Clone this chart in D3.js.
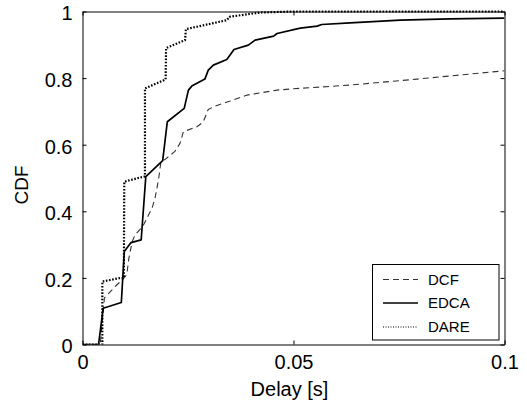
<!DOCTYPE html>
<html>
<head>
<meta charset="utf-8">
<script src="https://cdn.jsdelivr.net/npm/d3@7"></script>
<style>
  html, body { margin: 0; padding: 0; background: #fff; }
  svg { display: block; font-family: "Liberation Sans", Arial, Helvetica, sans-serif; }
</style>
</head>
<body>
<svg id="chart" width="527" height="409"></svg>
<script>
// Delay samples (s) and cumulative fractions for each access scheme
const dcfDelay = [0, 0.0042, 0.0052, 0.0078, 0.0095, 0.0105, 0.011, 0.0118, 0.0125, 0.0143, 0.0155, 0.0165, 0.0172, 0.018, 0.0186, 0.0196, 0.0219, 0.0231, 0.0239, 0.0271, 0.0286, 0.0298, 0.0314, 0.035, 0.039, 0.0461, 0.05, 0.0634, 0.0793, 0.1];
const dcfCdf   = [0, 0, 0.14, 0.175, 0.195, 0.21, 0.26, 0.31, 0.33, 0.355, 0.385, 0.41, 0.44, 0.494, 0.55, 0.556, 0.58, 0.604, 0.639, 0.654, 0.668, 0.706, 0.716, 0.731, 0.749, 0.764, 0.768, 0.779, 0.797, 0.822];

const edcaDelay = [0, 0.0038, 0.0049, 0.0092, 0.0099, 0.0115, 0.0139, 0.015, 0.019, 0.0201, 0.0241, 0.0251, 0.0259, 0.029, 0.0298, 0.031, 0.0342, 0.0359, 0.0393, 0.0409, 0.0453, 0.0461, 0.0516, 0.0556, 0.0567, 0.0634, 0.0753, 0.0871, 0.1];
const edcaCdf   = [0, 0, 0.109, 0.126, 0.279, 0.306, 0.314, 0.504, 0.552, 0.669, 0.709, 0.764, 0.776, 0.797, 0.824, 0.839, 0.856, 0.886, 0.899, 0.914, 0.926, 0.934, 0.95, 0.956, 0.961, 0.966, 0.974, 0.978, 0.98];

const dareDelay = [0, 0.0047, 0.0047, 0.0086, 0.0098, 0.0099, 0.0148, 0.0148, 0.0197, 0.0198, 0.0243, 0.0245, 0.0342, 0.0348, 0.0421, 0.05, 0.1];
const dareCdf   = [0, 0, 0.189, 0.199, 0.2, 0.489, 0.505, 0.769, 0.796, 0.89, 0.914, 0.947, 0.974, 0.984, 0.997, 1, 1];

const seriesNames = ["DCF", "EDCA", "DARE"];
const xTicks = [0, 0.05, 0.1];
const xTickLabels = ["0", "0.05", "0.1"];
const yTicks = [0, 0.2, 0.4, 0.6, 0.8, 1];
const yTickLabels = ["0", "0.2", "0.4", "0.6", "0.8", "1"];

const svg = d3.select("#chart");
const plotLeft = 82.5, plotRight = 504.5, plotTop = 11.5, plotBottom = 344.5;

const x = d3.scaleLinear().domain([0, 0.1]).range([plotLeft, plotRight]);
const y = d3.scaleLinear().domain([0, 1]).range([plotBottom, plotTop]);

const styles = {
  DCF:  { stroke: "#333", width: 1.1, dash: "6,4" },
  EDCA: { stroke: "#000", width: 1.7, dash: null },
  DARE: { stroke: "#000", width: 2.2, dash: "1.6,1.6" }
};

const series = [
  { name: "DCF",  pts: d3.zip(dcfDelay, dcfCdf) },
  { name: "EDCA", pts: d3.zip(edcaDelay, edcaCdf) },
  { name: "DARE", pts: d3.zip(dareDelay, dareCdf) }
];

const line = d3.line().x(d => x(d[0])).y(d => y(d[1]));

svg.append("defs").append("clipPath").attr("id", "plotClip")
  .append("rect").attr("x", plotLeft).attr("y", plotTop - 2)
  .attr("width", plotRight - plotLeft).attr("height", plotBottom - plotTop + 2);

const plot = svg.append("g").attr("clip-path", "url(#plotClip)");
series.forEach(s => {
  const st = styles[s.name];
  plot.append("path")
    .attr("d", line(s.pts))
    .attr("fill", "none")
    .attr("stroke", st.stroke)
    .attr("stroke-width", st.width)
    .attr("stroke-dasharray", st.dash)
    .attr("stroke-linejoin", "round");
});

// Axes with inward ticks on all four sides
const tickLen = 4;
const fmtX = (d, i) => xTickLabels[i];
const fmtY = (d, i) => yTickLabels[i];

const xAxisB = d3.axisBottom(x).tickValues(xTicks).tickFormat(fmtX).tickSizeInner(-tickLen).tickSizeOuter(0).tickPadding(10);
const xAxisT = d3.axisTop(x).tickValues(xTicks).tickFormat("").tickSizeInner(-tickLen).tickSizeOuter(0);
const yAxisL = d3.axisLeft(y).tickValues(yTicks).tickFormat(fmtY).tickSizeInner(-tickLen).tickSizeOuter(0).tickPadding(10);
const yAxisR = d3.axisRight(y).tickValues(yTicks).tickFormat("").tickSizeInner(-tickLen).tickSizeOuter(0);

function styleAxis(g) {
  g.selectAll("path.domain").attr("stroke", "#000").attr("stroke-width", 1);
  g.selectAll(".tick line").attr("stroke", "#000").attr("stroke-width", 1);
  g.selectAll(".tick text").attr("fill", "#000").attr("font-size", 20)
    .attr("font-family", "'Liberation Sans', Arial, sans-serif");
}

svg.append("g").attr("transform", `translate(0,${plotBottom})`).call(xAxisB).call(styleAxis)
  .selectAll(".tick text").attr("dy", "0.71em");
svg.append("g").attr("transform", `translate(0,${plotTop})`).call(xAxisT).call(styleAxis);
svg.append("g").attr("transform", `translate(${plotLeft},0)`).call(yAxisL).call(styleAxis)
  .selectAll(".tick text").attr("dy", "0.42em");
svg.append("g").attr("transform", `translate(${plotRight},0)`).call(yAxisR).call(styleAxis);

// Axis titles
svg.append("text")
  .attr("x", (plotLeft + plotRight) / 2 - 4).attr("y", 396)
  .attr("text-anchor", "middle").attr("font-size", 20).attr("fill", "#000")
  .text("Delay [s]");

svg.append("text")
  .attr("transform", `translate(28,${(plotTop + plotBottom) / 2 + 7}) rotate(-90)`)
  .attr("text-anchor", "middle").attr("font-size", 19).attr("fill", "#000")
  .text("CDF");

// Legend
const legend = svg.append("g");
legend.append("rect")
  .attr("x", 372.5).attr("y", 264.5).attr("width", 126.5).attr("height", 75.5)
  .attr("fill", "#fff").attr("stroke", "#000").attr("stroke-width", 1);

const legendRows = [279.5, 303, 327];
seriesNames.forEach((name, i) => {
  const st = styles[name];
  legend.append("line")
    .attr("x1", 383).attr("x2", 418).attr("y1", legendRows[i]).attr("y2", legendRows[i])
    .attr("stroke", st.stroke)
    .attr("stroke-width", name === "EDCA" ? 1.7 : 1)
    .attr("stroke-dasharray", name === "DARE" ? "1,1.5" : st.dash);
  legend.append("text")
    .attr("x", 428).attr("y", legendRows[i]).attr("dy", "0.36em")
    .attr("font-size", 15).attr("fill", "#000")
    .text(name);
});
</script>
</body>
</html>
